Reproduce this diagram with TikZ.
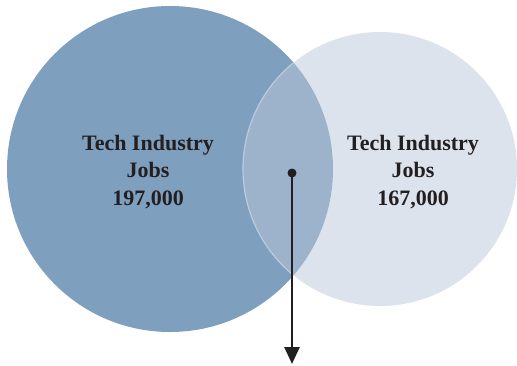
\documentclass[tikz,border=0pt]{standalone}
\usepackage{fontspec}
\setmainfont{Liberation Serif}
\usetikzlibrary{arrows.meta}
\definecolor{leftc}{HTML}{7F9FBF}
\definecolor{rightc}{HTML}{DCE3ED}
\definecolor{overc}{HTML}{9DB3CB}
\definecolor{edgec}{HTML}{BCCBDC}
\definecolor{inkc}{HTML}{231F20}
\tikzset{
  venn/.style={circle, inner sep=0pt, outer sep=0pt},
  label/.style={align=center, text=inkc, font=\fontsize{22}{27.5}\selectfont\bfseries},
  pointer/.style={draw=inkc, line width=2.6pt, -{Triangle[length=17pt,width=15pt]}}
}
\begin{document}
\begin{tikzpicture}[x=1pt,y=-1pt]
\useasboundingbox (0,0) rectangle (517,365);
\node[venn, fill=leftc, minimum size=326pt] (L) at (170,169) {};
\node[venn, fill=rightc, minimum size=274pt] (R) at (380,169) {};
\begin{scope}
  \clip (170,169) circle[radius=163];
  \fill[overc] (380,169) circle[radius=137];
  \draw[edgec, line width=1.2pt] (380,169) circle[radius=137];
\end{scope}
\node[label] (tl) at (148,172) {Tech Industry\\Jobs\\197,000};
\node[label] (tr) at (413,172) {Tech Industry\\Jobs\\167,000};
\node[circle, fill=inkc, inner sep=0pt, minimum size=9pt] (dot) at (292,173) {};
\coordinate (end) at (292,364);
\draw[pointer] (dot.center) -- (end);
\end{tikzpicture}
\end{document}
